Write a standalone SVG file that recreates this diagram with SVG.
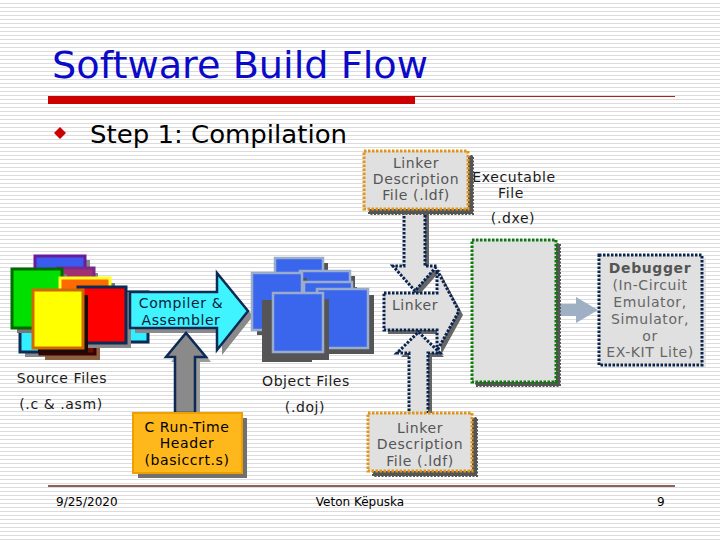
<svg xmlns="http://www.w3.org/2000/svg" width="720" height="540" viewBox="0 0 720 540">
<defs>
<pattern id="stripes" x="0" y="0" width="8" height="4" patternUnits="userSpaceOnUse">
<rect x="0" y="0" width="8" height="4" fill="#ffffff"/>
<rect x="0" y="3" width="8" height="1" fill="#dcdcdc"/>
</pattern>
</defs>
<style>
text{font-family:"DejaVu Sans","Verdana",sans-serif}
.lbl{font-size:14px;letter-spacing:0.6px;text-anchor:middle}
.grey{fill:#555555}
.dark{fill:#1a1a1a}
.dotbox{fill:#e0e0e0;stroke-width:3;stroke-dasharray:2.5 1.5}
.shadow{fill:#555555;stroke:#555555;stroke-width:2;stroke-dasharray:2 1.5}
.ldf{stroke:#e0961a}
.navydot{fill:#e0e0e0;stroke:#0a2450;stroke-width:3;stroke-dasharray:2.5 1.5}
.src{stroke-width:3}
.obj{fill:#3a66ee;stroke:#9aaccc;stroke-width:2.5}
.objsh{fill:#555555}
.foot{font-size:12px;fill:#000}
</style>

<rect x="0" y="0" width="720" height="540" fill="url(#stripes)"/>

<g id="header">
<text x="52" y="78" font-size="38" fill="#0a0ac8" textLength="376" lengthAdjust="spacingAndGlyphs">Software Build Flow</text>
<rect x="48" y="96" width="367" height="8" fill="#cc0000"/>
<line x1="415" y1="96.5" x2="675" y2="96.5" stroke="#b02020" stroke-width="1"/>
<polygon points="60,127 66,133 60,139 54,133" fill="#cc0000"/>
<text x="90" y="143" font-size="24" fill="#000" textLength="257" lengthAdjust="spacingAndGlyphs">Step 1: Compilation</text>
</g>

<g id="executable-label">
<text class="lbl dark" x="514" y="182">Executable</text>
<text class="lbl dark" x="511" y="198">File</text>
<text class="lbl dark" x="513" y="223">(.dxe)</text>
</g>

<g id="source-files">
<rect x="40" y="260" width="50" height="48" fill="#888"/>
<rect class="src" x="35" y="256" width="50" height="48" fill="#3a5af0" stroke="#6a1a9a"/>
<rect x="62" y="273" width="36" height="48" fill="#888"/>
<rect class="src" x="58" y="268" width="36" height="48" fill="#a03070" stroke="#7a2a8a"/>
<rect x="25" y="297" width="50" height="60" fill="#888"/>
<rect class="src" x="20" y="292" width="50" height="60" fill="#30f0ff" stroke="#0c2a55"/>
<rect x="45" y="300" width="55" height="60" fill="#8a6040"/>
<rect class="src" x="40" y="296" width="55" height="58" fill="#6a1000" stroke="#3a0000"/>
<rect x="17" y="274" width="50" height="59" fill="#777"/>
<rect class="src" x="12" y="269" width="50" height="59" fill="#00e000" stroke="#006a00"/>
<rect x="65" y="283" width="50" height="57" fill="#777"/>
<rect class="src" x="60" y="278" width="50" height="57" fill="#ff6a00" stroke="#ffff20"/>
<rect x="128" y="292" width="20" height="50" fill="#30f0ff" stroke="#0c2a55" stroke-width="3"/>
<rect x="83" y="292" width="48" height="56" fill="#888"/>
<rect class="src" x="78" y="287" width="48" height="56" fill="#ff0000" stroke="#0c2a55"/>
<rect x="38" y="295" width="50" height="58" fill="#1a0a0a"/>
<rect class="src" x="33" y="290" width="50" height="58" fill="#ffff00" stroke="#d06a00"/>
<text class="lbl dark" x="62" y="383">Source Files</text>
<text class="lbl dark" x="61" y="409">(.c &amp; .asm)</text>
</g>

<g id="connectors">
<!-- top ldf down to linker -->
<polygon points="408,212 429,212 429,270 441,270 419,295 397,270 408,270" fill="#666"/>
<polygon class="navydot" points="404,208 425,208 425,266 437,266 415,291 393,266 404,266"/>
<!-- linker arrow -->
<polygon points="388,297 441,297 441,274 463,315 441,355 441,334 388,334" fill="#666"/>
<polygon class="navydot" points="384,293 437,293 437,270 459,311 437,351 437,330 384,330"/>
<!-- bottom ldf up to linker -->
<polygon points="413,417 413,357 401,357 422.5,336 444,357 432,357 432,417" fill="#666"/>
<polygon class="navydot" points="409,415 409,353 397,353 418.5,332 440,353 428,353 428,415"/>
<!-- executable to debugger -->
<polygon points="557,304 576,304 576,297 598,310 576,323 576,316 557,316" fill="#9fb0c4"/>
<!-- compiler & assembler -->
<polygon points="135,297 222,297 222,278 253,316 222,355 222,333 135,333" fill="#8a8a8a"/>
<polygon points="130,292 217,292 217,273 248,311 217,350 217,328 130,328" fill="#40f4ff" stroke="#0c2a55" stroke-width="2.5" stroke-linejoin="miter"/>
<!-- runtime header up arrow -->
<polygon points="180,415 180,362 171,362 191,338 211,362 200,362 200,415" fill="#9a9a9a"/>
<polygon points="175,413 175,357 166,357 186,333 206,357 195,357 195,413" fill="#8a8a8a" stroke="#0c2a55" stroke-width="2.5"/>
</g>

<g id="linker-label">
<text class="lbl grey" x="415" y="310">Linker</text>
</g>
<g id="compiler-label">
<text class="lbl" x="181" y="308" fill="#0a1a3a">Compiler &amp;</text>
<text class="lbl" x="181" y="325" fill="#0a1a3a">Assembler</text>
</g>

<g id="ldf-top">
<rect class="shadow" x="369" y="156" width="104" height="58"/>
<rect class="dotbox ldf" x="364" y="151" width="104" height="58"/>
<text class="lbl grey" x="416" y="168">Linker</text>
<text class="lbl grey" x="416" y="184">Description</text>
<text class="lbl grey" x="416" y="200">File (.ldf)</text>
</g>

<g id="ldf-bottom">
<rect class="shadow" x="373" y="418" width="104" height="58"/>
<rect class="dotbox ldf" x="368" y="413" width="104" height="58"/>
<text class="lbl grey" x="420" y="433">Linker</text>
<text class="lbl grey" x="420" y="449">Description</text>
<text class="lbl grey" x="420" y="466">File (.ldf)</text>
</g>

<g id="executable">
<rect class="shadow" x="476" y="244" width="84" height="142"/>
<rect class="dotbox" x="472" y="240" width="84" height="142" stroke="#0e7a0e"/>
</g>

<g id="debugger">
<rect x="602" y="258" width="104" height="110" fill="#d8d8d8" opacity="0.6"/>
<rect class="navydot" x="599" y="255" width="103" height="110"/>
<text class="lbl grey" x="650" y="273" font-weight="bold">Debugger</text>
<text class="lbl" x="650" y="290" fill="#666">(In-Circuit</text>
<text class="lbl" x="650" y="307" fill="#666">Emulator,</text>
<text class="lbl" x="650" y="324" fill="#666">Simulator,</text>
<text class="lbl" x="650" y="341" fill="#666">or</text>
<text class="lbl" x="650" y="357" fill="#666">EX-KIT Lite)</text>
</g>

<g id="object-files">
<rect class="objsh" x="280" y="263" width="48" height="52"/>
<rect class="obj" x="275" y="258" width="48" height="52"/>
<rect class="objsh" x="305" y="276" width="50" height="52"/>
<rect class="obj" x="300" y="271" width="50" height="52"/>
<rect class="objsh" x="257" y="278" width="50" height="57"/>
<rect class="obj" x="252" y="273" width="50" height="57"/>
<rect class="objsh" x="309" y="287" width="48" height="52"/>
<rect class="obj" x="304" y="282" width="48" height="52"/>
<rect class="objsh" x="323" y="295" width="51" height="59"/>
<rect class="obj" x="317" y="289" width="51" height="59"/>
<rect class="objsh" x="262" y="300" width="50" height="62"/>
<rect class="objsh" x="279" y="299" width="50" height="61"/>
<rect class="obj" x="273" y="293" width="50" height="59"/>
<text class="lbl dark" x="306" y="386">Object Files</text>
<text class="lbl dark" x="305" y="412">(.doj)</text>
</g>

<g id="runtime-header">
<rect x="138" y="418" width="109" height="60" fill="#707070"/>
<rect x="133" y="413" width="109" height="60" fill="#ffb81c" stroke="#eea000" stroke-width="2"/>
<text class="lbl" x="187" y="432" fill="#000">C Run-Time</text>
<text class="lbl" x="187" y="448" fill="#000">Header</text>
<text class="lbl" x="187" y="465" fill="#000">(basiccrt.s)</text>
</g>

<g id="footer">
<line x1="48" y1="486" x2="675" y2="486" stroke="#6b2a2a" stroke-width="1.5"/>
<text class="foot" x="56" y="506">9/25/2020</text>
<text class="foot" x="360" y="506" text-anchor="middle">Veton Këpuska</text>
<text class="foot" x="657" y="506">9</text>
</g>
</svg>
